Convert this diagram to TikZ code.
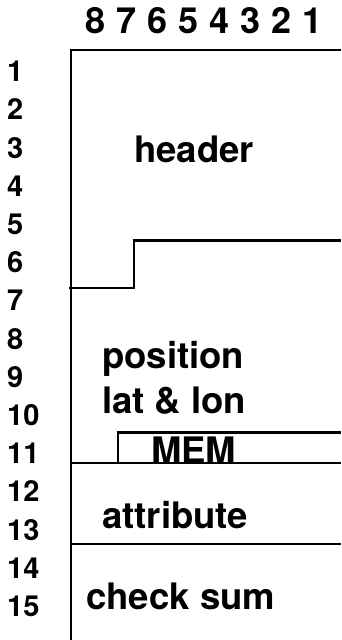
\documentclass[tikz,border=0pt]{standalone}
\usepackage{fontspec}
\setmainfont{TeX Gyre Heros}
\usetikzlibrary{positioning}

\tikzset{
  bitnum/.style={inner sep=0pt, anchor=base, font=\fontsize{36}{40}\selectfont\bfseries},
  bytenum/.style={inner sep=0pt, anchor=base west, font=\fontsize{29}{34}\selectfont\bfseries},
  field/.style={inner sep=0pt, anchor=base west, font=\fontsize{36.5}{40}\selectfont\bfseries},
  frame/.style={line width=2.2pt},
}

\begin{document}
\begin{tikzpicture}[x=1pt, y=-1pt]
          \useasboundingbox (0,0) rectangle (341,640);

          % bit numbers
          \foreach \b [count=\i from 0] in {8,7,6,5,4,3,2,1}
            \node[bitnum] (bit\b) at (96+30.9*\i, 33.3) {\b};
          % byte numbers
          \foreach \n in {1,...,15}
            \node[bytenum] (byte\n) at (7, 81.7+38.2*\n-38.2) {\n};

          % fields
          \node[field] (header) at (134, 162) {header};
          \node[field] (pos) at (102, 368) {position};
          \node[field] (latlon) at (102, 413) {lat \& lon};
          \node[field] (mem) at (151, 463.5) {MEM};
          \node[field] (attr) at (102, 528) {attribute};
          \node[field] (check) at (86, 609) {check sum};

          \coordinate (top) at (71, 50);
          \coordinate (bottom) at (71, 640);
          \coordinate (topright) at (341, 50);
          \coordinate (stepin) at (69, 288);
          \coordinate (stepup) at (134, 288);
          \coordinate (stepright) at (341, 240.5);
          \coordinate (memleft) at (118, 463);
          \coordinate (memright) at (341, 432.5);

          % Edges
          \draw[frame] (bottom) -- (top) -- (topright);
          \draw[frame] (stepin) -- (stepup) |- (stepright);
          \draw[frame] (memleft) |- (memright);
          \draw[frame] (71, 463) -- (341, 463);
          \draw[frame] (71, 544) -- (341, 544);
    \end{tikzpicture}
\end{document}
